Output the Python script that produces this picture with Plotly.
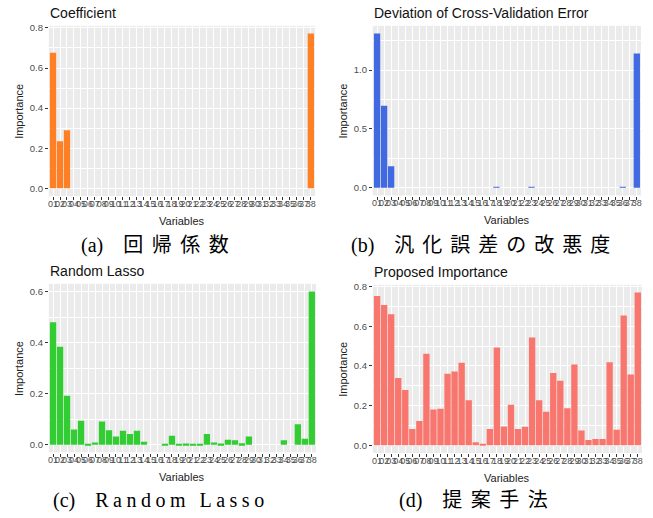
import plotly.graph_objects as go

# ---------------- data ----------------
variables = ["01", "02", "03", "04", "05", "06", "07", "08", "09", "10",
             "11", "12", "13", "14", "15", "16", "17", "18", "19", "20",
             "21", "22", "23", "24", "25", "26", "27", "28", "29", "30",
             "31", "32", "33", "34", "35", "36", "37", "38"]

coefficient = [0.676, 0.235, 0.289, 0, 0, 0, 0, 0, 0, 0,
               0, 0, 0, 0, 0, 0, 0, 0, 0, 0,
               0, 0, 0, 0, 0, 0, 0, 0, 0, 0,
               0, 0, 0, 0, 0, 0, 0, 0.772]

cv_deviation = [1.310, 0.696, 0.183, 0, 0, 0, 0, 0, 0, 0,
                0, 0, 0, 0, 0, 0, 0, 0.008, 0, 0,
                0, 0, 0.008, 0, 0, 0, 0, 0, 0, 0,
                0, 0, 0, 0, 0, 0.008, 0, 1.141]

random_lasso = [0.480, 0.384, 0.192, 0.060, 0.094, 0.003, 0.009, 0.091, 0.057, 0.033,
                0.055, 0.042, 0.055, 0.012, 0, 0, 0.003, 0.036, 0.002, 0.005,
                0.002, 0.002, 0.042, 0.009, 0.005, 0.020, 0.018, 0.006, 0.033, 0,
                0, 0, 0, 0.018, 0, 0.081, 0.024, 0.601]

proposed = [0.753, 0.708, 0.661, 0.339, 0.279, 0.082, 0.122, 0.462, 0.180, 0.184,
            0.361, 0.372, 0.416, 0.227, 0.015, 0.008, 0.082, 0.493, 0.095, 0.204,
            0.082, 0.094, 0.544, 0.227, 0.169, 0.364, 0.326, 0.187, 0.407, 0.075,
            0.027, 0.032, 0.032, 0.419, 0.078, 0.655, 0.357, 0.771]

titles = ["Coefficient", "Deviation of Cross-Validation Error",
          "Random Lasso", "Proposed Importance"]
caption_labels = ["(a)", "(b)", "(c)", "(d)"]
caption_texts = ["回帰係数", "汎化誤差の改悪度", "Random Lasso", "提案手法"]
colors = ["#FF7F24", "#4169E1", "#32CD32", "#F8766D"]
series = [coefficient, cv_deviation, random_lasso, proposed]
major_dtick = [0.2, 0.5, 0.2, 0.2]

W, H = 653, 518
# panel boxes in pixels: (left, right, top, bottom)
boxes = [(48, 315, 22, 193.5), (373, 642, 22, 193),
         (48, 316, 282, 452), (373, 643, 283, 452.4)]
caption_pos = [(78, 243), (349, 243), (50, 500), (397, 500)]
caption_spacing = [8.5, 8, 4.5, 8.5]

fig = go.Figure()
annotations = []
SANS = "Liberation Sans, Arial, sans-serif"

for i, (vals, col) in enumerate(zip(series, colors)):
    n = i + 1
    xa = "x" if n == 1 else f"x{n}"
    ya = "y" if n == 1 else f"y{n}"
    fig.add_trace(go.Bar(x=variables, y=vals, marker=dict(color=col, line=dict(width=0)),
                         xaxis=xa, yaxis=ya, showlegend=False))
    l, r, t, b = boxes[i]
    vmax = max(vals)
    xkey = "xaxis" if n == 1 else f"xaxis{n}"
    ykey = "yaxis" if n == 1 else f"yaxis{n}"
    fig.layout[xkey] = dict(
        domain=[l / W, r / W], anchor=ya, type="category",
        range=[-0.6, len(variables) - 0.4],
        tickmode="linear", tick0=0, dtick=1,
        showgrid=True, gridcolor="white", gridwidth=1.0,
        ticks="outside", ticklen=3, tickwidth=1, tickcolor="#333333",
        ticklabelstandoff=-4,
        tickangle=0, tickfont=dict(family=SANS, size=9, color="#4D4D4D"),
        showline=False, zeroline=False, fixedrange=True)
    fig.layout[ykey] = dict(
        domain=[1 - b / H, 1 - t / H], anchor=xa,
        range=[-0.05 * vmax, 1.05 * vmax],
        dtick=major_dtick[i], tick0=0, tickformat=".1f",
        showgrid=True, gridcolor="white", gridwidth=1.1,
        minor=dict(showgrid=True, gridcolor="white", gridwidth=0.5,
                   dtick=major_dtick[i] / 2),
        ticks="outside", ticklen=3, tickwidth=1, tickcolor="#333333",
        tickfont=dict(family=SANS, size=9.5, color="#4D4D4D"),
        showline=False, zeroline=False, fixedrange=True)
    # panel title
    annotations.append(dict(text=titles[i], x=(l - 1) / W, y=1 - (t - 3) / H,
                            xref="paper", yref="paper", xanchor="left", yanchor="bottom",
                            showarrow=False, font=dict(family=SANS, size=14, color="#111111")))
    # x axis title
    annotations.append(dict(text="Variables", x=(l + r) / 2 / W, y=1 - (b + 25) / H,
                            xref="paper", yref="paper", xanchor="center", yanchor="middle",
                            showarrow=False, font=dict(family=SANS, size=11, color="#222222")))
    # y axis title
    annotations.append(dict(text="Importance", x=(l - 30) / W, y=1 - (t + b) / 2 / H,
                            xref="paper", yref="paper", xanchor="center", yanchor="middle",
                            textangle=-90, showarrow=False,
                            font=dict(family=SANS, size=11, color="#222222")))
    # caption
    cx, cy = caption_pos[i]
    cap = (caption_labels[i] + "\u00a0\u00a0\u00a0\u00a0"
           + f'<span style="letter-spacing:{caption_spacing[i]}px">{caption_texts[i]}</span>')
    annotations.append(dict(text=cap,
                            x=cx / W, y=1 - cy / H, xref="paper", yref="paper",
                            xanchor="left", yanchor="middle", showarrow=False,
                            font=dict(family="Liberation Serif, Noto Sans CJK JP, serif",
                                      size=20, color="black")))

fig.update_layout(
    width=W, height=H, margin=dict(l=0, r=0, t=0, b=0),
    paper_bgcolor="white", plot_bgcolor="#EBEBEB",
    bargap=0.1, annotations=annotations,
)

fig.write_html("out.html", config={"displayModeBar": False})
